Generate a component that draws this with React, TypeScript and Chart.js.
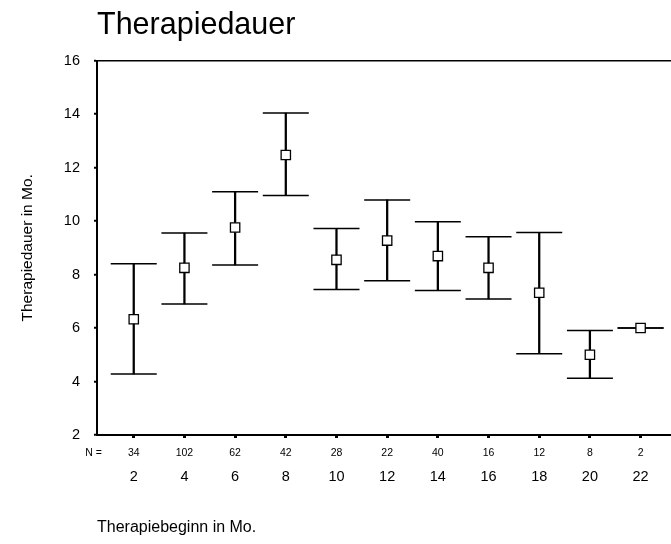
import React, { useEffect, useRef } from 'react';
import { Chart, registerables } from 'chart.js';

Chart.register(...registerables);

const TITLE = 'Therapiedauer';
const X_TITLE = 'Therapiebeginn in Mo.';
const Y_TITLE = 'Therapiedauer in Mo.';
const N_PREFIX = 'N =';

const CATEGORIES = [2, 4, 6, 8, 10, 12, 14, 16, 18, 20, 22];
const N_COUNTS = [34, 102, 62, 42, 28, 22, 40, 16, 12, 8, 2];
const MEANS = [6.33, 8.25, 9.76, 12.47, 8.55, 9.27, 8.69, 8.25, 7.32, 5.0, 6.0];
const UPPER = [8.4, 9.55, 11.1, 14.04, 9.72, 10.79, 9.97, 9.41, 9.57, 5.91, 6.0];
const LOWER = [4.28, 6.9, 8.36, 10.96, 7.44, 7.77, 7.4, 7.09, 5.04, 4.12, 6.0];

const Y_MIN = 2;
const Y_MAX = 16;
const Y_STEP = 2;
const X_MIN = 0.55;
const X_MAX = 23.2;

const FONT = "'Liberation Sans', Arial, Helvetica, sans-serif";

const nPrefixPlugin = {
  id: 'nPrefix',
  afterDraw(chart: any) {
    const s = chart.scales.xN;
    if (!s) return;
    const ctx = chart.ctx;
    ctx.save();
    ctx.font = `10.5px ${FONT}`;
    ctx.fillStyle = '#000';
    ctx.textAlign = 'right';
    ctx.textBaseline = 'middle';
    ctx.fillText(N_PREFIX, s.left + 5, s.top + 18);
    ctx.restore();
  },
};

const setCategoryTicks = (scale: any) => {
  scale.ticks = CATEGORIES.map((v) => ({ value: v }));
};

export default function App() {
  const canvasRef = useRef<HTMLCanvasElement | null>(null);

  useEffect(() => {
    document.body.style.margin = '0';
    const canvas = canvasRef.current;
    if (!canvas) return;

    const chart = new Chart(canvas, {
      type: 'scatter',
      data: {
        datasets: [
          {
            type: 'scatter',
            label: 'Mittelwert',
            data: CATEGORIES.map((c, i) => ({ x: c, y: MEANS[i] })),
            pointStyle: 'rect',
            pointRadius: 6.6,
            pointBackgroundColor: '#ffffff',
            pointBorderColor: '#000000',
            pointBorderWidth: 1.3,
            xAxisID: 'x',
            yAxisID: 'y',
          } as any,
          {
            type: 'scatter',
            label: 'Obere Grenze',
            data: CATEGORIES.map((c, i) => ({ x: c, y: UPPER[i] })),
            pointStyle: 'line',
            pointRadius: 23,
            pointBorderColor: '#000000',
            pointBorderWidth: 1.5,
            xAxisID: 'x',
            yAxisID: 'y',
          } as any,
          {
            type: 'scatter',
            label: 'Untere Grenze',
            data: CATEGORIES.map((c, i) => ({ x: c, y: LOWER[i] })),
            pointStyle: 'line',
            pointRadius: 23,
            pointBorderColor: '#000000',
            pointBorderWidth: 1.5,
            xAxisID: 'x',
            yAxisID: 'y',
          } as any,
          {
            type: 'bar',
            label: 'Bereich',
            data: CATEGORIES.map((c, i) => ({ x: c, y: [LOWER[i], UPPER[i]] })),
            backgroundColor: '#000000',
            borderWidth: 0,
            barThickness: 1.6,
            xAxisID: 'x',
            yAxisID: 'y',
          } as any,
        ],
      },
      options: {
        animation: false,
        responsive: true,
        maintainAspectRatio: false,
        events: [],
        layout: { padding: 0, autoPadding: false },
        plugins: {
          legend: { display: false },
          tooltip: { enabled: false },
          title: {
            display: true,
            text: TITLE,
            align: 'start',
            fullSize: false,
            color: '#000',
            font: { family: FONT, size: 30.5, weight: 'normal' },
            padding: { top: 7, bottom: 17 },
          },
        },
        scales: {
          xN: {
            type: 'linear',
            position: 'bottom',
            weight: 0,
            offset: false,
            min: X_MIN,
            max: X_MAX,
            afterBuildTicks: setCategoryTicks,
            afterFit: (scale: any) => {
              scale.height = 25;
              scale.paddingLeft = 0;
              scale.paddingRight = 0;
            },
            grid: {
              display: true,
              offset: false,
              drawOnChartArea: false,
              drawTicks: true,
              tickLength: 3,
              tickWidth: 3,
              tickColor: '#000',
              color: '#000',
            },
            border: { display: true, color: '#000', width: 2 },
            ticks: {
              autoSkip: false,
              maxRotation: 0,
              padding: 8.7,
              color: '#000',
              font: { family: FONT, size: 10.5 },
              callback: (_v: any, index: number) => String(N_COUNTS[index]),
            },
          },
          x: {
            type: 'linear',
            position: 'bottom',
            weight: 1,
            offset: false,
            min: X_MIN,
            max: X_MAX,
            afterBuildTicks: setCategoryTicks,
            afterFit: (scale: any) => {
              scale.height = 84;
              scale.paddingLeft = 0;
              scale.paddingRight = 0;
            },
            grid: { display: false, offset: false, drawTicks: false, drawOnChartArea: false },
            border: { display: false },
            ticks: {
              autoSkip: false,
              maxRotation: 0,
              padding: 8.3,
              color: '#000',
              font: { family: FONT, size: 14.5 },
              callback: (v: any) => String(v),
            },
            title: {
              display: true,
              text: X_TITLE,
              align: 'start',
              color: '#000',
              font: { family: FONT, size: 16 },
              padding: { top: 0, bottom: 6.4 },
            },
          },
          y: {
            type: 'linear',
            position: 'left',
            min: Y_MIN,
            max: Y_MAX,
            afterFit: (scale: any) => {
              scale.width = 97;
            },
            grid: {
              display: true,
              drawOnChartArea: true,
              drawTicks: true,
              tickLength: 3,
              tickWidth: 2,
              tickColor: '#000',
              lineWidth: 1.5,
              color: (ctx: any) => (ctx.tick && ctx.tick.value === Y_MAX ? '#000' : 'rgba(0,0,0,0)'),
            },
            border: { display: true, color: '#000', width: 2 },
            ticks: {
              stepSize: Y_STEP,
              padding: 14,
              color: '#000',
              font: { family: FONT, size: 14.5 },
            },
            title: {
              display: true,
              text: Y_TITLE,
              color: '#000',
              font: { family: FONT, size: 15.5 },
              padding: { top: 18, bottom: 0 },
            },
          },
        },
      } as any,
      plugins: [nPrefixPlugin],
    });

    return () => {
      chart.destroy();
    };
  }, []);

  return (
    <div style={{ position: 'relative', width: '671px', height: '544px', background: '#fff' }}>
      <canvas ref={canvasRef} />
    </div>
  );
}
